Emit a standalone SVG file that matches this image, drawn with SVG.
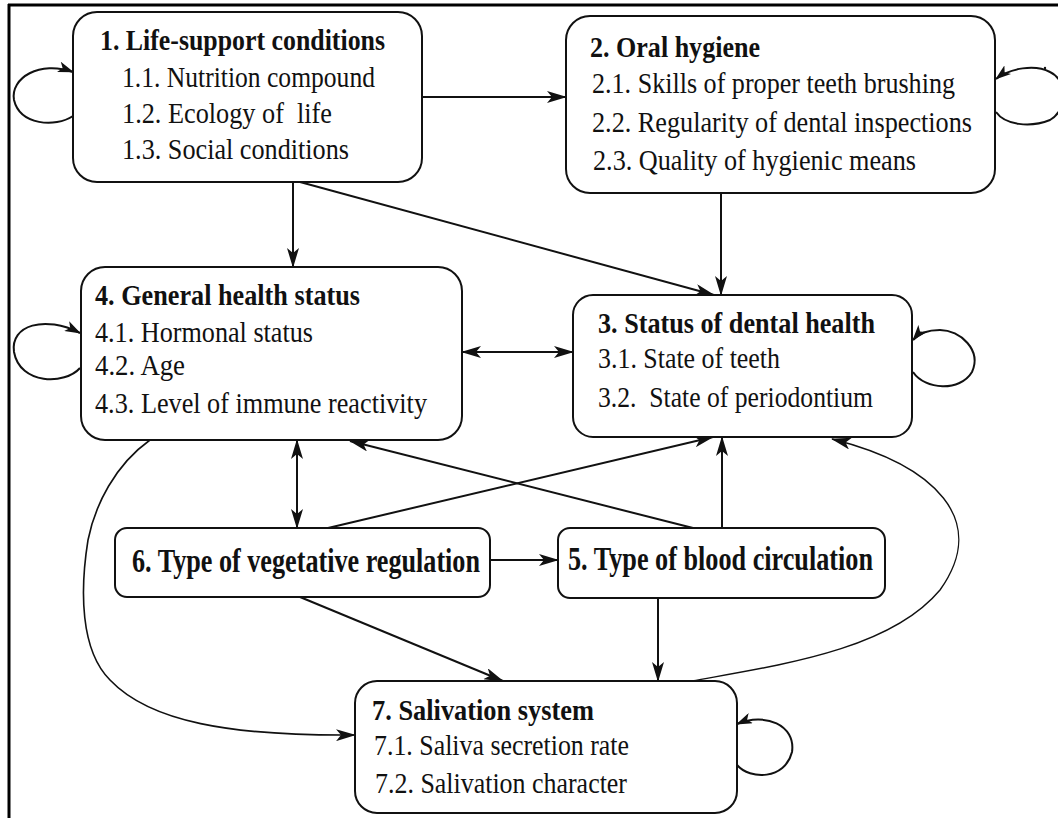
<svg xmlns="http://www.w3.org/2000/svg" width="1058" height="818" viewBox="0 0 1058 818">
<style>
  .box{fill:#fff;stroke:#111;stroke-width:2}
  .t{font-family:"Liberation Serif","Times New Roman",serif;fill:#111}
  .h{font-weight:bold;font-size:29px}
  .hb{font-weight:bold;font-size:33px}
  .b{font-size:29px}
  .c{fill:none;stroke:#111;stroke-width:2}
  .thin{fill:none;stroke:#111;stroke-width:1.4}
</style>
<defs>
  <marker id="ah" viewBox="0 0 20 12" refX="19" refY="6" markerWidth="20" markerHeight="12" orient="auto-start-reverse" markerUnits="userSpaceOnUse">
    <path d="M0,0 L20,6 L0,12 L5,6 z" fill="#111"/>
  </marker>
  <marker id="as" viewBox="0 0 16 11" refX="15" refY="5.5" markerWidth="16" markerHeight="11" orient="auto" markerUnits="userSpaceOnUse">
    <path d="M0,0 L16,5.5 L0,11 L4,5.5 z" fill="#111"/>
  </marker>
</defs>
<rect width="1058" height="818" fill="#fff"/>
<g id="frame">
  <line x1="8" y1="5" x2="1058" y2="5" stroke="#000" stroke-width="3"/>
  <line x1="9" y1="4" x2="9" y2="818" stroke="#000" stroke-width="3"/>
</g>
<g id="connectors">
  <line class="c" x1="422" y1="97" x2="566" y2="97" marker-end="url(#ah)"/>
  <line class="c" x1="293" y1="182" x2="293" y2="267" marker-end="url(#ah)"/>
  <line class="c" x1="300" y1="182" x2="714" y2="295" marker-end="url(#ah)"/>
  <line class="c" x1="721" y1="193" x2="721" y2="295" marker-end="url(#ah)"/>
  <line class="c" x1="462" y1="352" x2="573" y2="352" marker-start="url(#ah)" marker-end="url(#ah)"/>
  <line class="c" x1="297" y1="440" x2="297" y2="528" marker-start="url(#ah)" marker-end="url(#ah)"/>
  <line class="c" x1="328" y1="528" x2="713" y2="437" marker-end="url(#ah)"/>
  <line class="c" x1="693" y1="528" x2="350" y2="441" marker-end="url(#ah)"/>
  <line class="c" x1="722" y1="528" x2="722" y2="437" marker-end="url(#ah)"/>
  <line class="c" x1="490" y1="560" x2="558" y2="560" marker-end="url(#ah)"/>
  <line class="c" x1="300" y1="597" x2="503" y2="681" marker-end="url(#ah)"/>
  <line class="c" x1="658" y1="598" x2="658" y2="681" marker-end="url(#ah)"/>
  <path class="thin" d="M692,681 C780,665 890,650 940,590 C990,520 935,465 832,439" marker-end="url(#ah)"/>
  <path class="c" style="stroke-width:1.6" d="M150,440 C115,465 95,505 88,540 C80,590 80,650 110,680 C150,722 230,736 355,735" marker-end="url(#ah)"/>
  <path class="c" d="M73,116 C55,128 20,125 14,100 C10,78 40,60 73,72" marker-end="url(#as)"/>
  <path class="c" d="M996,112 C1005,125 1030,128 1050,120 C1068,110 1068,80 1050,72 C1035,64 1010,68 996,79" marker-end="url(#as)"/>
  <circle cx="1045" cy="68" r="1.2" fill="#111"/>
  <path class="c" d="M913,372 C925,390 960,392 972,372 C982,350 960,330 940,330 C928,330 918,334 913,340" marker-end="url(#as)"/>
  <path class="c" d="M80,368 C65,385 20,385 14,352 C10,325 45,315 80,333" marker-end="url(#as)"/>
  <path class="c" d="M737,765 C750,780 785,780 792,752 C796,725 765,712 737,724" marker-end="url(#as)"/>
</g>
<g id="node1">
  <rect class="box" x="73" y="12" width="349" height="170" rx="24"/>
  <text class="t h" x="100" y="50" textLength="285" lengthAdjust="spacingAndGlyphs">1. Life-support conditions</text>
  <text class="t b" x="122" y="87" textLength="253" lengthAdjust="spacingAndGlyphs">1.1. Nutrition compound</text>
  <text class="t b" x="122" y="123" textLength="210" lengthAdjust="spacingAndGlyphs" xml:space="preserve">1.2. Ecology of  life</text>
  <text class="t b" x="122" y="159" textLength="227" lengthAdjust="spacingAndGlyphs">1.3. Social conditions</text>
</g>
<g id="node2">
  <rect class="box" x="566" y="16" width="429" height="177" rx="24"/>
  <text class="t h" x="590" y="57" textLength="170" lengthAdjust="spacingAndGlyphs">2. Oral hygiene</text>
  <text class="t b" x="592" y="93" textLength="363" lengthAdjust="spacingAndGlyphs">2.1. Skills of proper teeth brushing</text>
  <text class="t b" x="592" y="132" textLength="380" lengthAdjust="spacingAndGlyphs">2.2. Regularity of dental inspections</text>
  <text class="t b" x="593" y="170" textLength="323" lengthAdjust="spacingAndGlyphs">2.3. Quality of hygienic means</text>
</g>
<g id="node3">
  <rect class="box" x="573" y="295" width="339" height="142" rx="20"/>
  <text class="t h" x="598" y="333" textLength="277" lengthAdjust="spacingAndGlyphs">3. Status of dental health</text>
  <text class="t b" x="598" y="368" textLength="182" lengthAdjust="spacingAndGlyphs">3.1. State of teeth</text>
  <text class="t b" x="598" y="407" textLength="275" lengthAdjust="spacingAndGlyphs" xml:space="preserve">3.2.  State of periodontium</text>
</g>
<g id="node4">
  <rect class="box" x="81" y="267" width="381" height="173" rx="24"/>
  <text class="t h" x="95" y="305" textLength="265" lengthAdjust="spacingAndGlyphs">4. General health status</text>
  <text class="t b" x="95" y="342" textLength="218" lengthAdjust="spacingAndGlyphs">4.1. Hormonal status</text>
  <text class="t b" x="95" y="375" textLength="90" lengthAdjust="spacingAndGlyphs">4.2. Age</text>
  <text class="t b" x="95" y="413" textLength="332" lengthAdjust="spacingAndGlyphs">4.3. Level of immune reactivity</text>
</g>
<g id="node5">
  <rect class="box" x="558" y="528" width="327" height="70" rx="12"/>
  <text class="t hb" x="568" y="570" textLength="305" lengthAdjust="spacingAndGlyphs">5. Type of blood circulation</text>
</g>
<g id="node6">
  <rect class="box" x="115" y="528" width="375" height="69" rx="12"/>
  <text class="t hb" x="132" y="572" textLength="348" lengthAdjust="spacingAndGlyphs">6. Type of vegetative regulation</text>
</g>
<g id="node7">
  <rect class="box" x="355" y="681" width="382" height="132" rx="22"/>
  <text class="t h" x="372" y="720" textLength="222" lengthAdjust="spacingAndGlyphs">7. Salivation system</text>
  <text class="t b" x="374" y="755" textLength="255" lengthAdjust="spacingAndGlyphs">7.1. Saliva secretion rate</text>
  <text class="t b" x="375" y="793" textLength="252" lengthAdjust="spacingAndGlyphs">7.2. Salivation character</text>
</g>
</svg>
